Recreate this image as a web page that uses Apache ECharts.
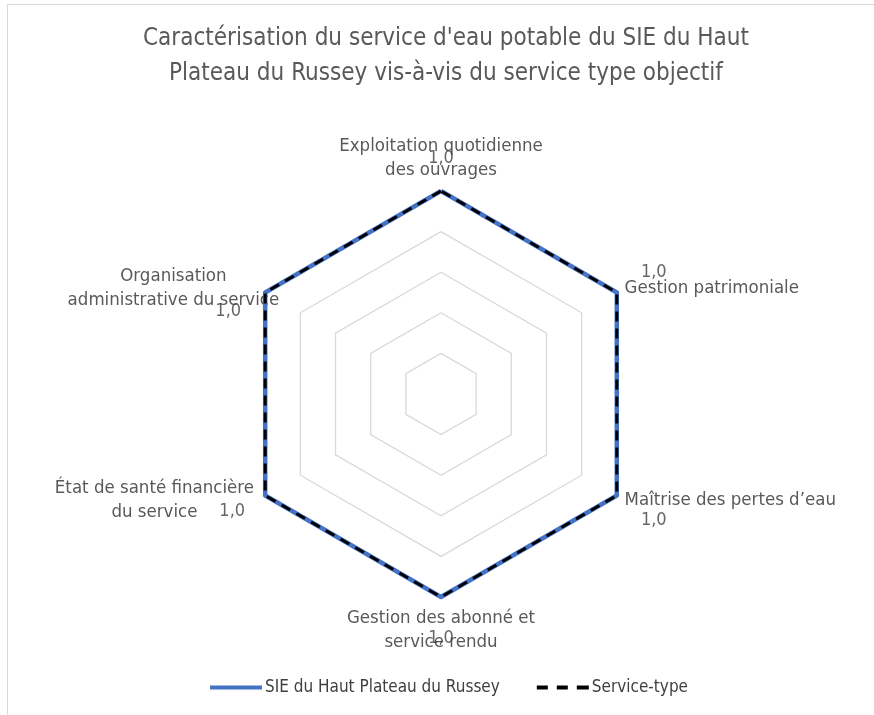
<!DOCTYPE html>
<html>
<head>
<meta charset="utf-8">
<script src="https://cdn.jsdelivr.net/npm/echarts@6/dist/echarts.min.js"></script>
<style>
  html, body { margin: 0; padding: 0; background: #fff; overflow: hidden; }
  #frame { position: absolute; left: 7px; top: 4px; width: 900px; height: 800px; border: 1px solid #d9d9d9; box-sizing: border-box; }
  #chart { position: absolute; left: 0; top: 0; width: 874px; height: 715px; }
</style>
</head>
<body>
<div id="frame"></div>
<div id="chart"></div>
<script>
// Categories in clockwise order starting at the top
const categories = [
  "Exploitation quotidienne\ndes ouvrages",
  "Gestion patrimoniale",
  "Maîtrise des pertes d’eau",
  "Gestion des abonné et\nservice rendu",
  "État de santé financière\ndu service",
  "Organisation\nadministrative du service"
];
const seriesNames = ["SIE du Haut Plateau du Russey", "Service-type"];
const sieValues = [1.0, 1.0, 1.0, 1.0, 1.0, 1.0];
const serviceTypeValues = [1.0, 1.0, 1.0, 1.0, 1.0, 1.0];
const axisMax = 1.0;

// label offsets (style) for the value labels, per vertex clockwise from top
const labelOffsets = [[0, -33], [37, -20], [37, 25], [0, 41], [-33, 16], [-37, 19]];

const FONT = "'Liberation Sans Narrow', 'DejaVu Sans Condensed', 'Liberation Sans', sans-serif";
const CX = 441, CY = 394, R = 203;

// ECharts radar runs counter-clockwise: reorder clockwise list
const ccwOrder = categories.map((c, i) => (categories.length - i) % categories.length);
const leftSide = new Set([categories[4], categories[5]]);

const chart = echarts.init(document.getElementById('chart'), null, { renderer: 'canvas' });
chart.setOption({
  animation: false,
  backgroundColor: 'transparent',
  title: {
    text: "Caractérisation du service d'eau potable du SIE du Haut\nPlateau du Russey vis-à-vis du service type objectif",
    left: 446,
    textAlign: 'center',
    top: 21,
    padding: 0,
    textStyle: { fontFamily: FONT, fontSize: 24, fontWeight: 'normal', color: '#595959', lineHeight: 35 }
  },
  legend: {
    bottom: 14,
    left: 205,
    itemWidth: 52,
    itemHeight: 4,
    itemGap: 37,
    textStyle: { fontFamily: FONT, fontSize: 17, color: '#404040', padding: [0, 0, 0, -2] },
    data: [
      { name: seriesNames[0], icon: 'path://M0,0H52V4H0Z' },
      { name: seriesNames[1], icon: 'path://M0,0H11V4H0Z M20,0H31V4H20Z M40,0H52V4H40Z' }
    ]
  },
  radar: {
    center: [CX, CY],
    radius: R,
    startAngle: 90,
    splitNumber: 5,
    shape: 'polygon',
    nameGap: 9,
    indicator: ccwOrder.map(i => ({ name: categories[i], min: 0, max: axisMax })),
    axisName: {
      color: '#595959',
      fontFamily: FONT,
      fontSize: 18.5,
      lineHeight: 24,
      formatter: function (name) {
        if (leftSide.has(name)) {
          const key = name.indexOf('Organisation') === 0 ? 'o' : 'e';
          return name.split('\n').map(l => '{' + key + '|' + l + '}').join('\n');
        }
        return name;
      },
      rich: {
        o: { width: 168, align: 'center', fontFamily: FONT, fontSize: 18.5, color: '#595959', lineHeight: 24 },
        e: { width: 206, align: 'center', fontFamily: FONT, fontSize: 18.5, color: '#595959', lineHeight: 24 }
      }
    },
    axisLine: { show: false },
    axisTick: { show: false },
    axisLabel: { show: false },
    splitArea: { show: false },
    splitLine: { lineStyle: { color: '#d9d9d9', width: 1.3 } }
  },
  polar: { center: [CX, CY], radius: R },
  angleAxis: { type: 'category', data: categories, startAngle: 120, clockwise: true, show: false },
  radiusAxis: { min: 0, max: axisMax, show: false },
  series: [
    {
      type: 'radar',
      symbol: 'none',
      silent: true,
      data: [
        {
          name: seriesNames[0],
          value: ccwOrder.map(i => sieValues[i]),
          itemStyle: { color: '#4472C4' },
          lineStyle: { color: '#4472C4', width: 4.5, type: 'solid' }
        },
        {
          name: seriesNames[1],
          value: ccwOrder.map(i => serviceTypeValues[i]),
          itemStyle: { color: '#000000' },
          lineStyle: { color: '#000000', width: 3, type: [10, 7] }
        }
      ]
    },
    {
      type: 'scatter',
      coordinateSystem: 'polar',
      symbolSize: 0,
      silent: true,
      data: sieValues.map((v, i) => ({
        value: [v, i],
        label: {
          show: true,
          position: 'inside',
          offset: labelOffsets[i],
          formatter: v.toFixed(1).replace('.', ','),
          fontFamily: FONT,
          fontSize: 18,
          color: '#404040'
        }
      }))
    }
  ]
});
</script>
</body>
</html>
